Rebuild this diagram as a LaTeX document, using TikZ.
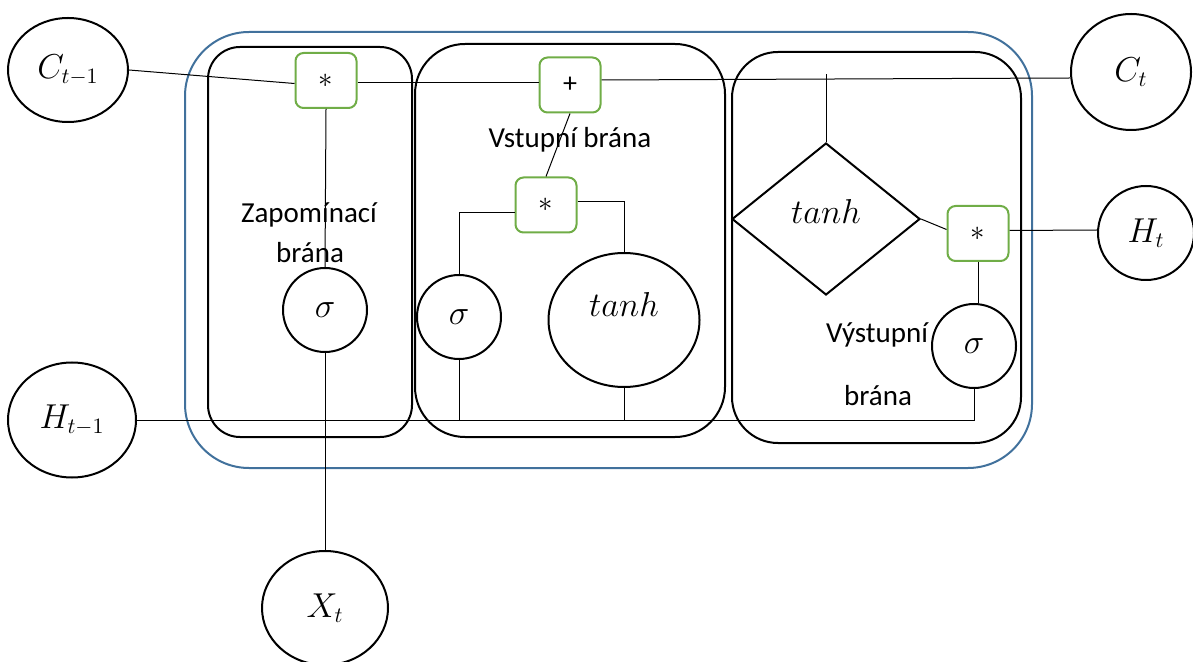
\documentclass[tikz,border=0pt]{standalone}
\usepackage{fontspec}
\setmainfont{Carlito}
\usetikzlibrary{shapes.geometric}
\definecolor{frameblue}{HTML}{41719C}
\definecolor{gategreen}{HTML}{70AD47}
\tikzset{
  state/.style={ellipse, draw, line width=1pt, inner sep=0pt, font=\fontsize{16}{18}\selectfont},
  act/.style={circle, draw, line width=1pt, minimum size=42pt, inner sep=0pt, font=\fontsize{16}{18}\selectfont},
  op/.style={rectangle, rounded corners=4pt, draw=gategreen, line width=1pt, minimum width=30.5pt, minimum height=27.5pt, inner sep=0pt, font=\fontsize{14}{16}\selectfont},
  gatebox/.style={rectangle, draw, line width=1pt, inner sep=0pt},
  wire/.style={line width=0.5pt},
  lbl/.style={font=\fontsize{14.5}{17}\selectfont, inner sep=0pt},
  mathlbl/.style={font=\fontsize{16}{18}\selectfont, inner sep=0pt}
}
\begin{document}
\begin{tikzpicture}[x=0.5pt,y=-0.5pt]
\useasboundingbox (0,0) rectangle (1193,662);

% cell frame and the three gate blocks
\node[rectangle, draw=frameblue, line width=1pt, rounded corners=32pt,
      minimum width=423.5pt, minimum height=218pt] (cell) at (608.5,250) {};
\node[gatebox, rounded corners=16pt, minimum width=102pt, minimum height=195pt] (forget) at (310,242) {};
\node[gatebox, rounded corners=25pt, minimum width=155pt, minimum height=196.5pt] (input) at (570,240.5) {};
\node[gatebox, rounded corners=23pt, minimum width=144.5pt, minimum height=195.5pt] (output) at (876.5,247.5) {};

% inputs and outputs
\node[state, minimum width=60pt, minimum height=52pt] (ct1) at (68,70) {$C_{t-1}$};
\node[state, minimum width=60pt, minimum height=58pt] (ct) at (1131,72) {$C_t$};
\node[state, minimum width=48pt, minimum height=47pt] (ht) at (1146,233) {$H_t$};
\node[state, minimum width=64pt, minimum height=57.5pt] (ht1) at (72,420) {$H_{t-1}$};
\node[state, minimum width=63pt, minimum height=57pt] (xt) at (325,608) {$X_t$};

% pointwise operations
\node[op] (m1) at (326,80.5) {$*$};
\node[op] (plus) at (570,85) {+};
\node[op] (m2) at (546,205) {$*$};
\node[op] (m3) at (978,233.5) {$*$};

% activations
\node[act] (s1) at (325,310) {$\sigma$};
\node[act] (s2) at (459,317) {$\sigma$};
\node[act] (s3) at (974,346) {$\sigma$};
\node[ellipse, draw, line width=1pt, inner sep=0pt, minimum width=75.5pt, minimum height=67pt] (th) at (624,320) {};
\node[mathlbl] (thtext) at (624,305) {$tanh$};
\node[diamond, draw, line width=1pt, inner sep=0pt, minimum width=94pt, minimum height=76pt] (dia) at (826,219) {};
\node[mathlbl] (diatext) at (826,212) {$tanh$};

% gate names
\node[lbl] (fgname1) at (309,215) {Zapomínací};
\node[lbl] (fgname2) at (310,253) {brána};
\node[lbl] (igname) at (570,140) {Vstupní brána};
\node[lbl] (ogname1) at (877,335) {Výstupní};
\node[lbl] (ogname2) at (878,396) {brána};

% cell state path
\draw[wire] (ct1.east) -- ([yshift=-1.5pt]m1.west);
\draw[wire] ([yshift=-1pt]m1.east) -- ([yshift=-1pt]m1.east -| plus.west);
\draw[wire] ([yshift=2.5pt]plus.east) -- ([yshift=-3pt]ct.west);
\draw[wire] (dia.north) -- ([yshift=-1pt]dia.north |- ct.west);

% forget gate
\draw[wire] (m1.south) -- (s1.north);
\draw[wire] (s1.south) -- (xt.north);

% input gate
\draw[wire] (plus.south) -- (m2.north);
\draw[wire] ([yshift=-4pt]m2.west) -- ([yshift=-4pt]m2.west -| s2.north) -- (s2.north);
\draw[wire] ([yshift=1.5pt]m2.east) -- ([yshift=1.5pt]m2.east -| th.north) -- (th.north);

% hidden state path
\draw[wire] (ht1.east) -- (ht1.east -| s3.south) -- (s3.south);
\draw[wire] (s2.south) -- (s2.south |- ht1.east);
\draw[wire] (th.south) -- (th.south |- ht1.east);

% output gate
\draw[wire] (dia.east) -- ([yshift=2pt]m3.west);
\draw[wire] ([yshift=1.5pt]m3.east) -- ([yshift=1.5pt]ht.west);
\draw[wire] (m3.south) -- (m3.south |- s3.north);
\end{tikzpicture}
\end{document}
